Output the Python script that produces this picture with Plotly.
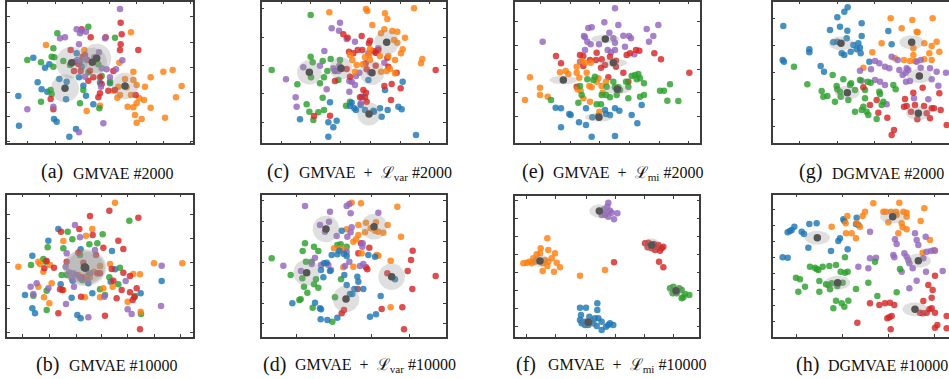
import numpy as np
import plotly.graph_objects as go

# ---------------- data (latent coordinates, arbitrary units) ----------------
A_PURPLE = [(360,27),(230,88),(245,92),(240,100),(258,95),(180,115),(195,112),(315,115),(237,133),(297,157),(232,180),(258,178),(367,181),(305,205),(320,208),(348,208),(255,230),(330,232),(303,260),(160,320),(82,328),(310,370),(237,397),(283,172)]
A_RED = [(362,68),(365,103),(245,88),(272,112),(317,112),(362,133),(360,150),(415,150),(212,150),(248,170),(255,165),(262,180),(222,213),(242,213),(270,212),(280,232),(300,232),(340,213),(265,242),(325,272),(345,270),(300,280),(295,292),(152,297),(160,328),(407,285),(305,252),(235,192)]
A_GREEN = [(172,100),(265,80),(345,113),(160,145),(155,170),(163,172),(82,180),(123,187),(190,183),(160,200),(210,195),(265,217),(250,270),(152,270),(155,282),(123,305),(240,310),(298,325),(330,245),(305,228),(295,193)]
A_BLUE = [(100,173),(148,193),(135,203),(230,160),(240,185),(225,185),(178,237),(200,245),(113,247),(125,268),(142,275),(250,257),(258,287),(198,298),(280,313),(55,288),(162,357),(170,365),(57,377),(228,387),(208,410),(245,200),(237,232),(330,250),(300,248)]
A_ORANGE = [(138,135),(393,97),(253,150),(358,188),(400,215),(375,237),(400,240),(410,255),(452,232),(490,215),(518,210),(545,258),(435,260),(355,260),(380,262),(393,285),(418,295),(432,300),(352,293),(360,285),(410,310),(383,320),(400,322),(452,323),(528,292),(405,345),(425,357),(410,368),(495,353),(260,333),(300,317),(340,272)]
A_COMP = [(215,188,48,48),(277,187,44,44),(290,175,44,44),(195,265,42,42),(375,258,40,40)]

C_ORANGE = [(238,37),(348,27),(352,33),(492,25),(405,40),(412,57),(367,75),(403,88),(393,100),(427,93),(442,95),(465,113),(432,120),(442,128),(458,148),(453,160),(435,180),(415,168),(390,168),(360,148),(358,165),(360,180),(338,193),(300,165),(307,180),(517,177),(513,190),(420,207),(410,213),(393,215),(435,220),(315,215),(320,195),(345,172)]
C_GREEN = [(182,45),(65,210),(182,170),(188,187),(218,183),(242,177),(270,180),(275,207),(255,213),(232,213),(222,232),(183,232),(210,250),(142,253),(218,293),(170,313),(178,335),(205,337),(222,330),(190,360),(288,317),(300,305),(265,240)]
C_RED = [(280,103),(293,113),(335,108),(360,122),(357,130),(297,155),(337,150),(370,153),(385,150),(378,158),(323,150),(310,160),(347,190),(350,208),(377,197),(412,173),(440,218),(415,200),(557,210),(255,243),(340,270),(348,278),(345,292),(330,292),(350,305),(403,258),(425,252),(452,265),(423,300),(240,347),(192,348),(300,230),(290,207)]
C_PURPLE = [(270,68),(245,85),(267,92),(290,117),(315,125),(223,153),(160,202),(108,238),(250,205),(268,197),(255,212),(265,213),(318,228),(305,245),(298,243),(315,255),(230,268),(298,275),(137,292),(140,320),(355,160),(377,158),(385,145),(403,188),(360,217),(328,218),(332,310),(210,197)]
C_BLUE = [(355,240),(458,245),(405,270),(335,290),(305,308),(300,318),(332,315),(240,307),(313,325),(318,330),(345,330),(372,335),(390,325),(413,330),(445,320),(455,328),(395,350),(235,367),(260,362),(150,358),(250,382),(235,410),(498,405),(370,332)]
C_COMP = [(178,217,37,37),(273,205,34,34),(366,218,37,37),(410,127,37,37),(357,342,35,35)]

E_PURPLE = [(345,25),(313,67),(355,75),(265,84),(275,82),(128,125),(252,108),(255,112),(262,125),(272,133),(297,133),(328,98),(340,115),(345,128),(387,108),(393,115),(370,107),(375,140),(440,87),(475,75),(460,108),(447,125),(323,150),(333,157),(403,163),(255,150),(240,185),(345,150)]
E_RED = [(168,168),(183,190),(240,165),(250,168),(270,180),(290,158),(288,180),(305,178),(315,195),(303,203),(330,170),(348,182),(348,200),(380,165),(390,160),(408,150),(418,152),(463,160),(483,178),(370,218),(385,245),(568,218),(250,198),(230,260),(325,232)]
E_ORANGE = [(90,232),(120,263),(120,285),(143,290),(75,300),(180,217),(197,213),(205,222),(230,200),(230,218),(260,218),(245,183),(255,188),(272,188),(238,233),(233,268),(242,272),(268,258),(275,262),(290,245),(305,258),(318,245),(295,235),(308,278),(270,305),(250,295),(298,335)]
E_GREEN = [(153,300),(235,308),(245,285),(240,258),(262,238),(280,240),(285,230),(320,260),(340,245),(345,262),(355,262),(360,270),(385,260),(395,228),(405,225),(410,238),(420,235),(432,250),(415,222),(510,253),(480,272),(492,272),(502,302),(535,303),(432,285),(420,290),(385,295),(330,292),(318,285),(305,285),(290,313),(303,313),(350,285),(378,245)]
E_BLUE = [(167,323),(183,325),(208,342),(212,345),(258,325),(315,330),(318,342),(345,325),(358,332),(330,345),(295,347),(277,352),(183,382),(237,367),(258,375),(275,410),(345,408),(395,345),(412,370),(425,315)]
E_COMP = [(316,117,42,13),(340,188,42,13),(190,240,42,13),(352,268,42,13),(297,352,42,13)]

G_BLUE = [(293,22),(283,35),(262,52),(335,70),(240,90),(270,80),(292,92),(335,108),(100,78),(250,127),(262,125),(290,115),(310,135),(325,130),(330,143),(320,148),(302,155),(275,160),(283,165),(332,160),(178,148),(178,157),(98,180),(102,185),(212,198),(222,215),(358,185),(415,93),(425,133)]
G_ORANGE = [(422,55),(487,60),(548,55),(455,85),(500,95),(503,97),(395,130),(490,145),(523,130),(545,138),(560,125),(568,155),(538,160),(367,157),(490,165),(523,178),(545,180),(435,175),(462,180),(480,183),(340,203),(495,183)]
G_PURPLE = [(425,170),(443,180),(375,183),(388,190),(405,200),(418,205),(363,208),(330,212),(335,242),(375,240),(405,255),(390,245),(448,210),(470,205),(467,218),(458,225),(475,210),(500,185),(512,180),(540,205),(512,203),(545,238),(560,215),(588,218),(468,245),(480,243),(565,257),(410,313),(492,295),(535,298)]
G_GREEN = [(132,200),(172,253),(215,273),(220,290),(232,288),(248,225),(260,258),(262,268),(280,238),(303,250),(300,255),(270,275),(272,290),(255,305),(295,300),(330,240),(315,270),(345,270),(353,245),(362,248),(345,295),(388,275),(390,282),(400,305),(430,255),(437,268),(340,320),(335,330),(350,335),(355,345),(315,335),(380,357),(395,315)]
G_RED = [(340,262),(360,315),(380,300),(385,338),(412,353),(432,390),(425,405),(465,297),(462,320),(470,318),(490,278),(518,263),(495,315),(522,318),(530,340),(545,325),(552,325),(568,280),(572,330),(590,375),(502,358),(540,355),(483,335)]
G_COMP = [(273,130,37,21),(485,127,37,21),(508,228,37,21),(292,278,37,21),(505,340,37,21)]

B_ORANGE = [(345,38),(277,117),(258,137),(190,153),(115,215),(120,222),(130,245),(150,225),(155,280),(115,290),(132,322),(148,340),(55,230),(235,255),(258,260),(270,262),(282,245),(300,228),(330,222),(420,253),(400,252),(338,290),(310,295),(300,322),(255,322),(462,220),(547,220),(422,365),(190,300),(383,335)]
B_RED = [(270,78),(328,62),(415,83),(183,125),(238,117),(278,135),(355,152),(310,173),(370,177),(288,195),(250,218),(235,188),(200,215),(140,213),(133,235),(162,233),(245,262),(300,250),(335,237),(370,248),(390,258),(340,272),(410,295),(390,307),(398,330),(403,322),(365,300),(350,325),(243,320),(187,300),(180,298),(175,370),(315,377),(420,418),(292,250)]
B_GREEN = [(388,92),(203,125),(308,133),(217,148),(143,172),(190,175),(268,163),(292,160),(240,195),(130,207),(137,215),(93,225),(200,255),(185,255),(328,262),(360,233),(355,283),(300,298),(315,315),(140,302),(100,317),(140,360),(405,318),(423,372),(247,270),(265,255)]
B_PURPLE = [(225,105),(240,142),(285,180),(200,190),(197,230),(207,247),(220,250),(215,265),(230,255),(240,265),(262,270),(270,250),(377,273),(485,227),(483,348),(383,358),(395,372),(265,382),(198,342),(313,320),(222,290),(110,280),(92,290),(100,312),(145,295)]
B_BLUE = [(175,117),(145,152),(97,197),(242,178),(182,283),(218,272),(265,280),(332,275),(345,238),(336,183),(485,273),(422,310),(277,310),(215,323),(75,315),(97,355),(105,370),(232,375),(242,385)]
B_COMP = [(255,233,66,56),(253,232,62,52),(257,234,58,49),(255,231,55,47),(254,233,64,54)]

D_PURPLE = [(165,48),(290,48),(298,42),(240,65),(302,70),(210,105),(237,95),(225,125),(305,112),(302,127),(260,138),(292,140),(385,68),(338,160),(337,170),(290,185),(100,227),(153,243),(185,222),(213,225),(243,240),(285,228),(298,215),(330,228),(340,222),(195,203),(235,225)]
D_ORANGE = [(305,38),(333,40),(442,50),(325,105),(348,98),(378,97),(362,115),(385,125),(400,128),(413,105),(345,127),(375,122),(325,135),(318,148),(310,155),(290,118),(453,140),(252,175),(270,175),(285,180),(335,190),(380,195),(385,197),(422,212),(310,230),(422,352),(280,232)]
D_BLUE = [(275,122),(245,195),(262,193),(268,182),(282,192),(290,198),(222,220),(230,218),(213,240),(240,243),(220,262),(283,255),(322,260),(325,275),(290,285),(313,297),(300,312),(307,312),(340,297),(392,318),(195,338),(210,355),(213,358),(232,390),(212,388),(262,383),(360,380),(378,373),(127,340),(375,200),(435,268),(355,195)]
D_GREEN = [(65,205),(165,160),(158,183),(192,170),(205,183),(262,165),(272,163),(168,215),(185,215),(122,255),(157,265),(198,268),(273,268),(162,290),(192,283),(205,293),(148,330),(152,328),(172,308),(255,322),(188,353),(247,395),(290,170)]
D_RED = [(333,160),(358,173),(325,190),(488,182),(483,210),(348,232),(352,238),(473,243),(412,250),(557,258),(487,297),(323,297),(282,360),(275,370),(395,357),(457,352),(462,418)]
D_COMP = [(228,117,40,40),(372,110,39,39),(170,248,40,40),(425,260,40,40),(288,327,40,40)]

F_PURPLE = [(325,38),(322,50),(312,58),(330,62),(352,70),(315,75),(325,80),(305,75),(342,88),(335,68),(318,68)]
F_RED = [(435,160),(445,158),(462,162),(475,165),(485,175),(465,180),(480,182),(490,170),(443,172),(477,215),(490,232),(342,217),(455,175),(470,172)]
F_ORANGE = [(142,145),(122,175),(145,180),(110,193),(120,190),(165,190),(80,218),(70,220),(95,220),(105,215),(128,220),(145,215),(170,218),(180,232),(162,245),(128,243),(142,228),(110,210),(240,257),(315,240),(100,205),(155,205),(88,215),(135,210)]
F_GREEN = [(510,295),(520,290),(545,300),(555,312),(568,315),(545,325),(550,322),(518,310),(538,295),(530,310)]
F_BLUE = [(240,353),(258,353),(292,340),(292,360),(243,375),(268,380),(285,385),(295,385),(240,390),(245,400),(255,405),(265,405),(280,400),(290,408),(305,420),(318,410),(330,400),(340,405),(305,395),(325,405),(250,395),(260,395),(275,392)]
F_COMP = [(298,63,30,20),(455,165,25,20),(120,213,25,18),(528,302,25,18),(265,397,25,15)]

H_BLUE = [(113,127),(120,123),(125,120),(133,110),(155,125),(162,132),(178,102),(200,100),(175,173),(243,183),(265,153),(270,145),(293,178),(98,202),(113,203),(283,93),(320,83),(318,102),(325,105),(280,88)]
H_ORANGE = [(370,40),(448,38),(345,65),(338,78),(292,78),(287,100),(320,100),(330,110),(245,110),(288,130),(305,130),(318,145),(400,65),(408,65),(423,65),(438,65),(460,65),(470,68),(440,75),(470,80),(415,97),(455,100),(458,112),(470,118),(445,130),(512,93),(523,55),(540,150),(518,188),(552,180)]
H_PURPLE = [(360,125),(435,148),(440,162),(495,130),(500,150),(505,165),(527,140),(378,203),(360,205),(355,235),(325,230),(430,195),(433,202),(463,190),(470,200),(475,210),(488,235),(478,220),(520,205),(530,185),(543,183),(555,182),(528,245),(578,243),(500,272),(478,295),(455,245)]
H_GREEN = [(285,202),(375,215),(180,230),(195,233),(200,237),(218,230),(238,228),(258,225),(205,240),(272,245),(285,248),(293,245),(138,263),(150,268),(165,290),(208,273),(245,280),(228,283),(235,285),(240,298),(262,288),(278,278),(318,297),(355,278),(145,305),(208,305),(382,318),(440,307),(258,332),(275,340),(295,332),(283,350),(250,355),(450,237)]
H_RED = [(555,257),(535,285),(548,300),(545,323),(538,358),(545,355),(510,368),(518,370),(530,368),(555,368),(590,378),(360,340),(388,345),(405,340),(420,338),(433,345),(418,382),(412,385),(425,378),(422,418),(322,398),(555,413),(562,405),(590,415),(520,333)]
H_COMP = [(202,143,38,21),(428,80,38,21),(505,212,38,21),(263,278,38,21),(495,358,38,21)]

CAPTIONS = {
    "a": "GMVAE #2000", "b": "GMVAE #10000",
    "c": "GMVAE\u2002+\u2002ℒ<sub>var</sub> #2000", "d": "GMVAE\u2002+\u2002ℒ<sub>var</sub> #10000",
    "e": "GMVAE\u2002+\u2002ℒ<sub>mi</sub> #2000", "f": "GMVAE\u2002+\u2002ℒ<sub>mi</sub> #10000",
    "g": "DGMVAE #2000", "h": "DGMVAE #10000",
}

# ---------------- layout configuration ----------------
W, H = 949, 379
COLORS = {"blue": "#1f77b4", "orange": "#ff7f0e", "green": "#2ca02c",
          "red": "#d62728", "purple": "#9467bd"}

# cap = (label left x, text left x, centre y) in page pixels
PANELS = [
    dict(key="a", org=(0, 0), fr=(22, 578, 5, 430), xt=[83,165,247,327,408,490,570], yt=[50,127,202,277,351,426],
         pts=dict(blue=A_BLUE, orange=A_ORANGE, green=A_GREEN, red=A_RED, purple=A_PURPLE), comp=A_COMP, cap=(39, 71, 172), cut=False, ea=0.30),
    dict(key="c", org=(250, 0), fr=(35, 588, 5, 430), xt=[95,183,272,362,452,540], yt=[27,112,197,282,367],
         pts=dict(green=C_GREEN, blue=C_BLUE, purple=C_PURPLE, red=C_RED, orange=C_ORANGE), comp=C_COMP, cap=(265, 297, 172), cut=False, ea=0.30),
    dict(key="e", org=(500, 0), fr=(45, 600, 5, 430), xt=[122,210,298,388,477,565], yt=[65,137,208,278,350],
         pts=dict(blue=E_BLUE, purple=E_PURPLE, red=E_RED, orange=E_ORANGE, green=E_GREEN), comp=E_COMP, cap=(520, 551, 172), cut=False, ea=0.30),
    dict(key="g", org=(750, 0), fr=(68, 597, 5, 430), xt=[150,262,373,485], yt=[55,137,218,298,380],
         pts=dict(blue=G_BLUE, orange=G_ORANGE, purple=G_PURPLE, green=G_GREEN, red=G_RED), comp=G_COMP, cap=(797, 830, 172), cut=True, ea=0.30),
    dict(key="b", org=(0, 190), fr=(22, 578, 14, 440), xt=[68,148,228,305,383,462,540], yt=[75,145,217,287,357,428],
         pts=dict(blue=B_BLUE, green=B_GREEN, orange=B_ORANGE, red=B_RED, purple=B_PURPLE), comp=B_COMP, cap=(34, 67, 364), cut=False, ea=0.17),
    dict(key="d", org=(250, 190), fr=(35, 588, 14, 440), xt=[140,255,365,478], yt=[32,94,155,217,278,340,400],
         pts=dict(green=D_GREEN, red=D_RED, orange=D_ORANGE, purple=D_PURPLE, blue=D_BLUE), comp=D_COMP, cap=(261, 293, 364), cut=False, ea=0.30),
    dict(key="f", org=(500, 190), fr=(45, 598, 18, 440), xt=[78,167,258,345,433,520], yt=[30,85,138,192,247,300,355,410],
         pts=dict(purple=F_PURPLE, red=F_RED, orange=F_ORANGE, green=F_GREEN, blue=F_BLUE), comp=F_COMP, cap=(514, 546, 364), cut=False, ea=0.30),
    dict(key="h", org=(750, 190), fr=(68, 597, 14, 440), xt=[140,278,415,553], yt=[58,107,155,203,250,298,347,395],
         pts=dict(blue=H_BLUE, orange=H_ORANGE, purple=H_PURPLE, green=H_GREEN, red=H_RED), comp=H_COMP, cap=(794, 826, 364), cut=True, ea=0.30),
]

fig = go.Figure()
layout = dict(width=W, height=H, margin=dict(l=0, r=0, t=0, b=0),
              paper_bgcolor="white", plot_bgcolor="white", showlegend=False,
              annotations=[])
theta = np.linspace(0, 2 * np.pi, 72)
FRAME = "#3c3c3c"
SERIF = "Liberation Serif, DejaVu Serif, serif"

for i, p in enumerate(PANELS, start=1):
    ox, oy = p["org"]
    x0, x1, y0, y1 = p["fr"]
    xa, ya = f"x{i}", f"y{i}"
    dom_x = [(ox + x0 / 3) / W, min(1.0, (ox + x1 / 3) / W)]
    dom_y = [1 - (oy + y1 / 3) / H, 1 - (oy + y0 / 3) / H]
    axcommon = dict(showgrid=False, zeroline=False, showticklabels=False, ticks="inside",
                    ticklen=3, tickwidth=1, tickcolor=FRAME, showline=True,
                    linecolor=FRAME, linewidth=1.5)
    layout[f"xaxis{i}"] = dict(axcommon, domain=dom_x, range=[x0, x1], anchor=ya,
                               tickmode="array", tickvals=p["xt"], mirror="ticks")
    layout[f"yaxis{i}"] = dict(axcommon, domain=dom_y, range=[y1, y0], anchor=xa,
                               tickmode="array", tickvals=p["yt"],
                               mirror=False if p["cut"] else "ticks")
    for cname, pts in p["pts"].items():
        fig.add_trace(go.Scatter(
            x=[q[0] for q in pts], y=[q[1] for q in pts], mode="markers",
            xaxis=xa, yaxis=ya, hoverinfo="skip",
            marker=dict(size=6.5, color=COLORS[cname], opacity=0.82, line=dict(width=0))))
    for (cx, cy, rx, ry) in p["comp"]:
        fig.add_trace(go.Scatter(
            x=cx + rx * np.cos(theta), y=cy + ry * np.sin(theta), mode="lines",
            fill="toself", fillcolor=f"rgba(150,150,150,{p['ea']})", line=dict(width=0),
            xaxis=xa, yaxis=ya, hoverinfo="skip"))
    fig.add_trace(go.Scatter(
        x=[c[0] for c in p["comp"]], y=[c[1] for c in p["comp"]], mode="markers",
        xaxis=xa, yaxis=ya, hoverinfo="skip",
        marker=dict(size=7.5, color="#555555", line=dict(width=0))))
    lx, tx, cyp = p["cap"]
    layout["annotations"].append(dict(
        x=lx / W, y=1 - cyp / H, xref="paper", yref="paper", showarrow=False,
        xanchor="left", yanchor="middle", text=f"({p['key']})",
        font=dict(family=SERIF, size=20, color="#111111")))
    layout["annotations"].append(dict(
        x=tx / W, y=1 - (cyp + 1) / H, xref="paper", yref="paper", showarrow=False,
        xanchor="left", yanchor="middle", text=CAPTIONS[p["key"]],
        font=dict(family=SERIF, size=16, color="#111111")))

fig.update_layout(**layout)
fig.write_html("out.html", config={"displayModeBar": False},
               post_script="document.body.style.margin='0px';document.body.style.overflow='hidden';")
